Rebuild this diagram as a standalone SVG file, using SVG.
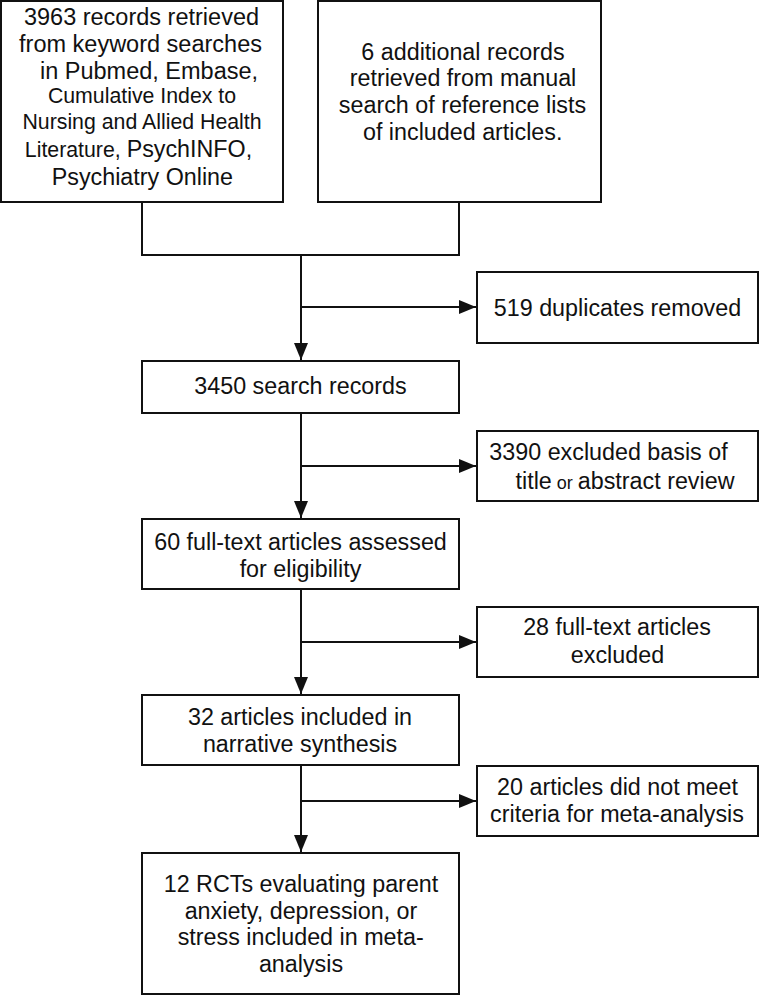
<svg xmlns="http://www.w3.org/2000/svg" width="760" height="996" viewBox="0 0 760 996">
<style>
.box{fill:#fff;stroke:#111;stroke-width:2}
.t{font-family:"Liberation Sans",Arial,Helvetica,sans-serif;font-size:23.3px;fill:#111;text-anchor:middle}
.s{font-size:21.3px}
.o{font-size:18px}
.c{fill:none;stroke:#111;stroke-width:2}
</style>
<defs>
<marker id="ah" markerUnits="userSpaceOnUse" markerWidth="17" markerHeight="14" refX="17" refY="7" orient="auto">
<path d="M0,0 L17,7 L0,14 z" fill="#111"/>
</marker>
</defs>
<rect width="760" height="996" fill="#fff"/>
<g id="connectors">
<path class="c" d="M142,202 V255 H459 V202"/>
<path class="c" d="M301,255 V360" marker-end="url(#ah)"/>
<path class="c" d="M301,307 H476" marker-end="url(#ah)"/>
<path class="c" d="M301,413 V518" marker-end="url(#ah)"/>
<path class="c" d="M301,466 H476" marker-end="url(#ah)"/>
<path class="c" d="M301,589 V694" marker-end="url(#ah)"/>
<path class="c" d="M301,642 H476" marker-end="url(#ah)"/>
<path class="c" d="M301,765 V852" marker-end="url(#ah)"/>
<path class="c" d="M301,801 H476" marker-end="url(#ah)"/>
</g>
<g id="n1">
<rect class="box" x="1" y="1" width="282" height="201"/>
<text class="t" style="font-size:23.5px"><tspan x="141.5" y="25">3963 records retrieved</tspan><tspan x="140.5" y="52">from keyword searches</tspan><tspan x="149" y="79">in Pubmed, Embase,</tspan></text>
<text class="t s"><tspan x="142" y="103">Cumulative Index to</tspan><tspan x="142" y="128.5">Nursing and Allied Health</tspan></text>
<text class="t" y="157" x="138.5"><tspan class="s">Literature, </tspan><tspan>PsychINFO,</tspan></text>
<text class="t" x="142.4" y="184.5" style="font-size:23.3px">Psychiatry Online</text>
</g>
<g id="n2">
<rect class="box" x="318" y="1" width="283" height="201"/>
<text class="t"><tspan x="463" y="59.5">6 additional records</tspan><tspan x="463" y="86">retrieved from manual</tspan><tspan x="462.5" y="113">search of reference lists</tspan><tspan x="462.7" y="140">of included articles.</tspan></text>
</g>
<g id="n3">
<rect class="box" x="477" y="272" width="281" height="71"/>
<text class="t" x="617.5" y="315.5">519 duplicates removed</text>
</g>
<g id="n4">
<rect class="box" x="142" y="361" width="317" height="52"/>
<text class="t" x="300.5" y="394">3450 search records</text>
</g>
<g id="n5">
<rect class="box" x="477" y="431" width="281" height="70"/>
<text class="t"><tspan x="608.5" y="460">3390 excluded basis of</tspan><tspan x="625" y="488.5">title<tspan class="o"> or </tspan>abstract review</tspan></text>
</g>
<g id="n6">
<rect class="box" x="142" y="519" width="317" height="70"/>
<text class="t"><tspan x="300.5" y="549.5">60 full-text articles assessed</tspan><tspan x="300.5" y="576.5">for eligibility</tspan></text>
</g>
<g id="n7">
<rect class="box" x="477" y="607" width="281" height="70"/>
<text class="t"><tspan x="617" y="635">28 full-text articles</tspan><tspan x="617.5" y="663">excluded</tspan></text>
</g>
<g id="n8">
<rect class="box" x="142" y="695" width="317" height="70"/>
<text class="t"><tspan x="300" y="725">32 articles included in</tspan><tspan x="300" y="752">narrative synthesis</tspan></text>
</g>
<g id="n9">
<rect class="box" x="477" y="766" width="281" height="70"/>
<text class="t"><tspan x="617.5" y="795">20 articles did not meet</tspan><tspan x="617" y="822">criteria for meta-analysis</tspan></text>
</g>
<g id="n10">
<rect class="box" x="142" y="853" width="317" height="141"/>
<text class="t"><tspan x="301" y="891.5">12 RCTs evaluating parent</tspan><tspan x="301" y="918.5">anxiety, depression, or</tspan><tspan x="300.7" y="945">stress included in meta-</tspan><tspan x="301" y="971.5">analysis</tspan></text>
</g>
</svg>
